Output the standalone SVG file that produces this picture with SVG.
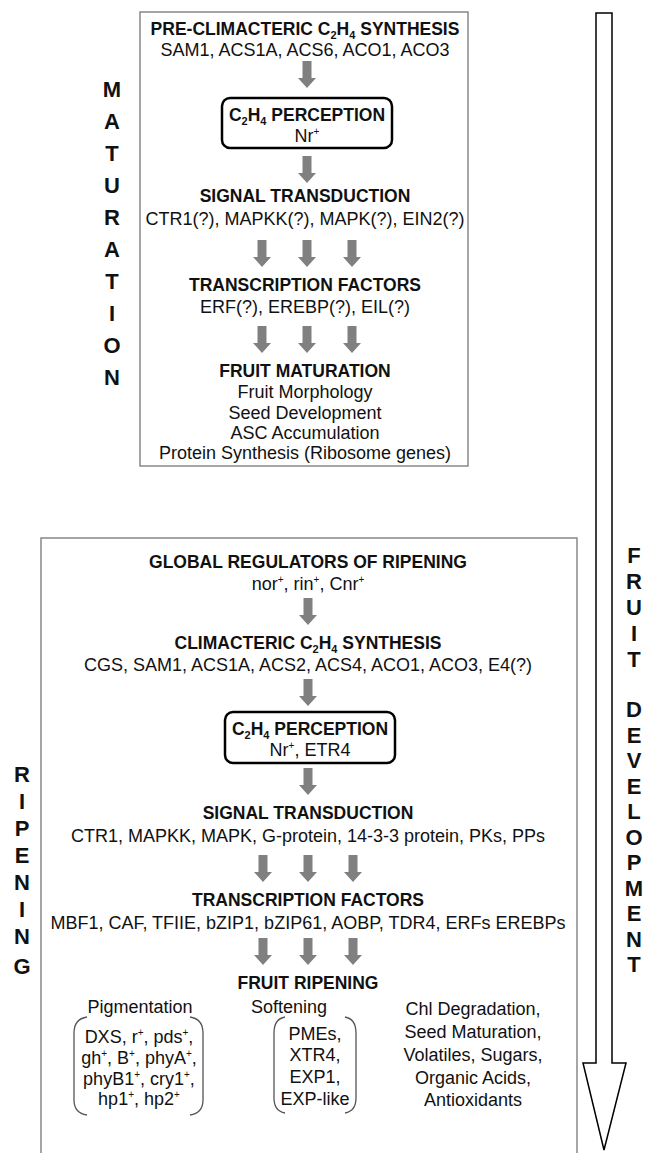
<svg xmlns="http://www.w3.org/2000/svg" width="650" height="1153" viewBox="0 0 650 1153">
<style>
text{font-family:"Liberation Sans",Arial,sans-serif;fill:#111;text-anchor:middle}
.h{font-weight:bold;font-size:17.5px}
.t{font-size:18px}
.side{font-weight:bold;font-size:22px}
.panel{fill:#fff;stroke:#888;stroke-width:1.5}
.perc{fill:#fff;stroke:#000;stroke-width:2.5}
.ga{fill:#808080}
.br{fill:none;stroke:#555;stroke-width:1.3}
</style>
<defs>
<path id="ga" d="M-4.5 0 H4.5 V17 H9 L0 27 L-9 17 H-4.5 Z"/>
</defs>
<rect class="panel" x="140" y="12" width="328" height="454"/>
<rect class="panel" x="41" y="538" width="536" height="630"/>
<g id="bigarrow"><path d="M596 13 H612 V1063 H626 L604 1150 L583 1063 H596 Z" fill="#fff" stroke="#000" stroke-width="1.5"/></g>
<g id="side-labels" class="side">
<text class="side" x="112" y="97">M</text><text class="side" x="112" y="129">A</text><text class="side" x="112" y="161">T</text><text class="side" x="112" y="193">U</text><text class="side" x="112" y="225">R</text><text class="side" x="112" y="257">A</text><text class="side" x="112" y="289">T</text><text class="side" x="112" y="321">I</text><text class="side" x="112" y="353">O</text><text class="side" x="112" y="385">N</text>
<text class="side" x="22" y="782">R</text><text class="side" x="22" y="809">I</text><text class="side" x="22" y="836">P</text><text class="side" x="22" y="863">E</text><text class="side" x="22" y="890">N</text><text class="side" x="22" y="917">I</text><text class="side" x="22" y="944">N</text><text class="side" x="22" y="974">G</text>
<text class="side" x="634" y="563">F</text><text class="side" x="634" y="589">R</text><text class="side" x="634" y="615">U</text><text class="side" x="634" y="641">I</text><text class="side" x="634" y="667">T</text>
<text class="side" x="634" y="717">D</text><text class="side" x="634" y="742.5">E</text><text class="side" x="634" y="768">V</text><text class="side" x="634" y="793.5">E</text><text class="side" x="634" y="819">L</text><text class="side" x="634" y="844.5">O</text><text class="side" x="634" y="870">P</text><text class="side" x="634" y="895.5">M</text><text class="side" x="634" y="921">E</text><text class="side" x="634" y="946.5">N</text><text class="side" x="634" y="972">T</text>
</g>
<g id="connectors" class="ga">
<use href="#ga" x="307" y="61"/>
<use href="#ga" x="307" y="156"/>
<use href="#ga" x="262" y="240"/><use href="#ga" x="307" y="240"/><use href="#ga" x="352" y="240"/>
<use href="#ga" x="262" y="326"/><use href="#ga" x="307" y="326"/><use href="#ga" x="352" y="326"/>
<use href="#ga" x="308" y="598"/>
<use href="#ga" x="308" y="679"/>
<use href="#ga" x="308" y="768"/>
<use href="#ga" x="263" y="855"/><use href="#ga" x="308" y="855"/><use href="#ga" x="353" y="855"/>
<use href="#ga" x="263" y="938"/><use href="#ga" x="308" y="938"/><use href="#ga" x="353" y="938"/>
</g>
<g id="m-synth">
<text class="h" x="305" y="35">PRE-CLIMACTERIC C<tspan font-size="11" dy="4">2</tspan><tspan dy="-4">H</tspan><tspan font-size="11" dy="4">4</tspan><tspan dy="-4"> SYNTHESIS</tspan></text>
<text class="t" x="305" y="56">SAM1, ACS1A, ACS6, ACO1, ACO3</text>
</g>
<g id="m-perc">
<rect class="perc" x="222" y="98" width="170" height="50" rx="8"/>
<text class="h" x="307" y="121">C<tspan font-size="11" dy="4">2</tspan><tspan dy="-4">H</tspan><tspan font-size="11" dy="4">4</tspan><tspan dy="-4"> PERCEPTION</tspan></text>
<text class="t" x="307" y="142">Nr<tspan font-size="10" dy="-7">+</tspan></text>
</g>
<g id="m-signal">
<text class="h" x="305" y="202">SIGNAL TRANSDUCTION</text>
<text class="t" x="305" y="225">CTR1(?), MAPKK(?), MAPK(?), EIN2(?)</text>
</g>
<g id="m-tf">
<text class="h" x="305" y="291">TRANSCRIPTION FACTORS</text>
<text class="t" x="305" y="313">ERF(?), EREBP(?), EIL(?)</text>
</g>
<g id="m-fruit">
<text class="h" x="305" y="377">FRUIT MATURATION</text>
<text class="t" x="305" y="398">Fruit Morphology</text>
<text class="t" x="305" y="418.5">Seed Development</text>
<text class="t" x="305" y="439">ASC Accumulation</text>
<text class="t" x="305" y="459">Protein Synthesis (Ribosome genes)</text>
</g>
<g id="r-global">
<text class="h" x="308" y="568">GLOBAL REGULATORS OF RIPENING</text>
<text class="t" x="308" y="590">nor<tspan font-size="10" dy="-7">+</tspan><tspan dy="7">, rin</tspan><tspan font-size="10" dy="-7">+</tspan><tspan dy="7">, Cnr</tspan><tspan font-size="10" dy="-7">+</tspan></text>
</g>
<g id="r-synth">
<text class="h" x="308" y="649">CLIMACTERIC C<tspan font-size="11" dy="4">2</tspan><tspan dy="-4">H</tspan><tspan font-size="11" dy="4">4</tspan><tspan dy="-4"> SYNTHESIS</tspan></text>
<text class="t" x="308" y="671">CGS, SAM1, ACS1A, ACS2, ACS4, ACO1, ACO3, E4(?)</text>
</g>
<g id="r-perc">
<rect class="perc" x="225" y="712" width="170" height="51" rx="8"/>
<text class="h" x="310" y="735">C<tspan font-size="11" dy="4">2</tspan><tspan dy="-4">H</tspan><tspan font-size="11" dy="4">4</tspan><tspan dy="-4"> PERCEPTION</tspan></text>
<text class="t" x="310" y="756">Nr<tspan font-size="10" dy="-7">+</tspan><tspan dy="7">, ETR4</tspan></text>
</g>
<g id="r-signal">
<text class="h" x="308" y="819">SIGNAL TRANSDUCTION</text>
<text class="t" x="308" y="842">CTR1, MAPKK, MAPK, G-protein, 14-3-3 protein, PKs, PPs</text>
</g>
<g id="r-tf">
<text class="h" x="308" y="906">TRANSCRIPTION FACTORS</text>
<text class="t" x="308" y="929">MBF1, CAF, TFIIE, bZIP1, bZIP61, AOBP, TDR4, ERFs EREBPs</text>
</g>
<g id="r-fruit">
<text class="h" x="308" y="989">FRUIT RIPENING</text>
</g>
<g id="r-pigment">
<text class="t" x="140" y="1013">Pigmentation</text>
<path class="br" d="M87 1017 Q74 1019 74 1033 V1100 Q74 1113 87 1115"/>
<path class="br" d="M190 1017 Q203 1019 203 1033 V1100 Q203 1113 190 1115"/>
<text class="t" x="139" y="1043">DXS, r<tspan font-size="10" dy="-7">+</tspan><tspan dy="7">, pds</tspan><tspan font-size="10" dy="-7">+</tspan><tspan dy="7">,</tspan></text>
<text class="t" x="139" y="1064">gh<tspan font-size="10" dy="-7">+</tspan><tspan dy="7">, B</tspan><tspan font-size="10" dy="-7">+</tspan><tspan dy="7">, phyA</tspan><tspan font-size="10" dy="-7">+</tspan><tspan dy="7">,</tspan></text>
<text class="t" x="139" y="1085">phyB1<tspan font-size="10" dy="-7">+</tspan><tspan dy="7">, cry1</tspan><tspan font-size="10" dy="-7">+</tspan><tspan dy="7">,</tspan></text>
<text class="t" x="139" y="1105">hp1<tspan font-size="10" dy="-7">+</tspan><tspan dy="7">, hp2</tspan><tspan font-size="10" dy="-7">+</tspan></text>
</g>
<g id="r-soft">
<text class="t" x="289" y="1013">Softening</text>
<path class="br" d="M285 1017 Q274 1019 274 1033 V1098 Q274 1111 285 1113"/>
<path class="br" d="M345 1017 Q356 1019 356 1033 V1098 Q356 1111 345 1113"/>
<text class="t" x="315" y="1040">PMEs,</text>
<text class="t" x="315" y="1061">XTR4,</text>
<text class="t" x="315" y="1083">EXP1,</text>
<text class="t" x="315" y="1105">EXP-like</text>
</g>
<g id="r-other">
<text class="t" x="473" y="1015">Chl Degradation,</text>
<text class="t" x="473" y="1038">Seed Maturation,</text>
<text class="t" x="473" y="1061">Volatiles, Sugars,</text>
<text class="t" x="473" y="1083.5">Organic Acids,</text>
<text class="t" x="473" y="1106">Antioxidants</text>
</g>
</svg>
